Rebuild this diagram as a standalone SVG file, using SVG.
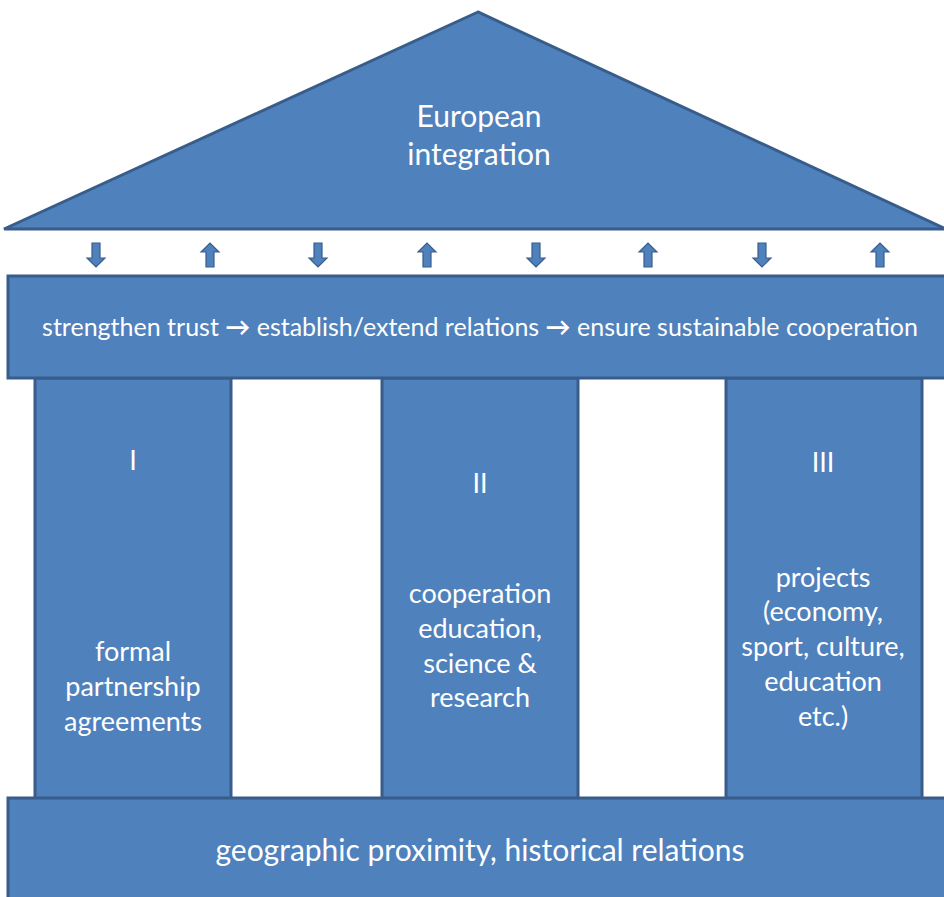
<svg xmlns="http://www.w3.org/2000/svg" width="944" height="897" viewBox="0 0 944 897">
<style>
.sh{fill:#4f81bd;stroke:#385d8a;stroke-width:3}
.ar{fill:#4f81bd;stroke:#385d8a;stroke-width:1.2}
.t{fill:#ffffff;font-family:Lato,"Open Sans","Liberation Sans",sans-serif;text-anchor:middle;font-size:27px}
</style>
<defs>
<path id="down" d="M-4,0 H4 V15 H9 L0,24 L-9,15 H-4 Z"/>
<path id="up" d="M-4,24 H4 V9 H9 L0,0 L-9,9 H-4 Z"/>
</defs>
<g id="roof"><polygon class="sh" points="478,12 4,229 946,229"/>
<text class="t" x="479" y="127" style="font-size:30px">European</text>
<text class="t" x="479" y="165" style="font-size:30px">integration</text></g>
<g id="connectors">
<use class="ar" href="#down" x="96" y="243"/>
<use class="ar" href="#up" x="210" y="243"/>
<use class="ar" href="#down" x="318" y="243"/>
<use class="ar" href="#up" x="427" y="243"/>
<use class="ar" href="#down" x="536" y="243"/>
<use class="ar" href="#up" x="648" y="243"/>
<use class="ar" href="#down" x="762" y="243"/>
<use class="ar" href="#up" x="880" y="243"/>
</g>
<g id="col1"><rect class="sh" x="35" y="378" width="196" height="421"/>
<text class="t" x="133" y="470">I</text>
<text class="t" x="133" y="661">formal</text>
<text class="t" x="133" y="696">partnership</text>
<text class="t" x="133" y="731">agreements</text></g>
<g id="col2"><rect class="sh" x="382" y="378" width="196" height="421"/>
<text class="t" x="480" y="493">II</text>
<text class="t" x="480" y="603">cooperation</text>
<text class="t" x="480" y="638">education,</text>
<text class="t" x="480" y="673">science &amp;</text>
<text class="t" x="480" y="707">research</text></g>
<g id="col3"><rect class="sh" x="726" y="378" width="196" height="421"/>
<text class="t" x="823" y="472">III</text>
<text class="t" x="823" y="587">projects</text>
<text class="t" x="823" y="621">(economy,</text>
<text class="t" x="823" y="656">sport, culture,</text>
<text class="t" x="823" y="691">education</text>
<text class="t" x="823" y="726">etc.)</text></g>
<g id="beam"><rect class="sh" x="8" y="276" width="940" height="102"/>
<text class="t" x="480" y="336" style="font-size:25px">strengthen trust <tspan font-weight="bold">→</tspan> establish/extend relations <tspan font-weight="bold">→</tspan> ensure sustainable cooperation</text></g>
<g id="base"><rect class="sh" x="8" y="798" width="940" height="104"/>
<text class="t" x="480" y="861" style="font-size:30px">geographic proximity, historical relations</text></g>
</svg>
